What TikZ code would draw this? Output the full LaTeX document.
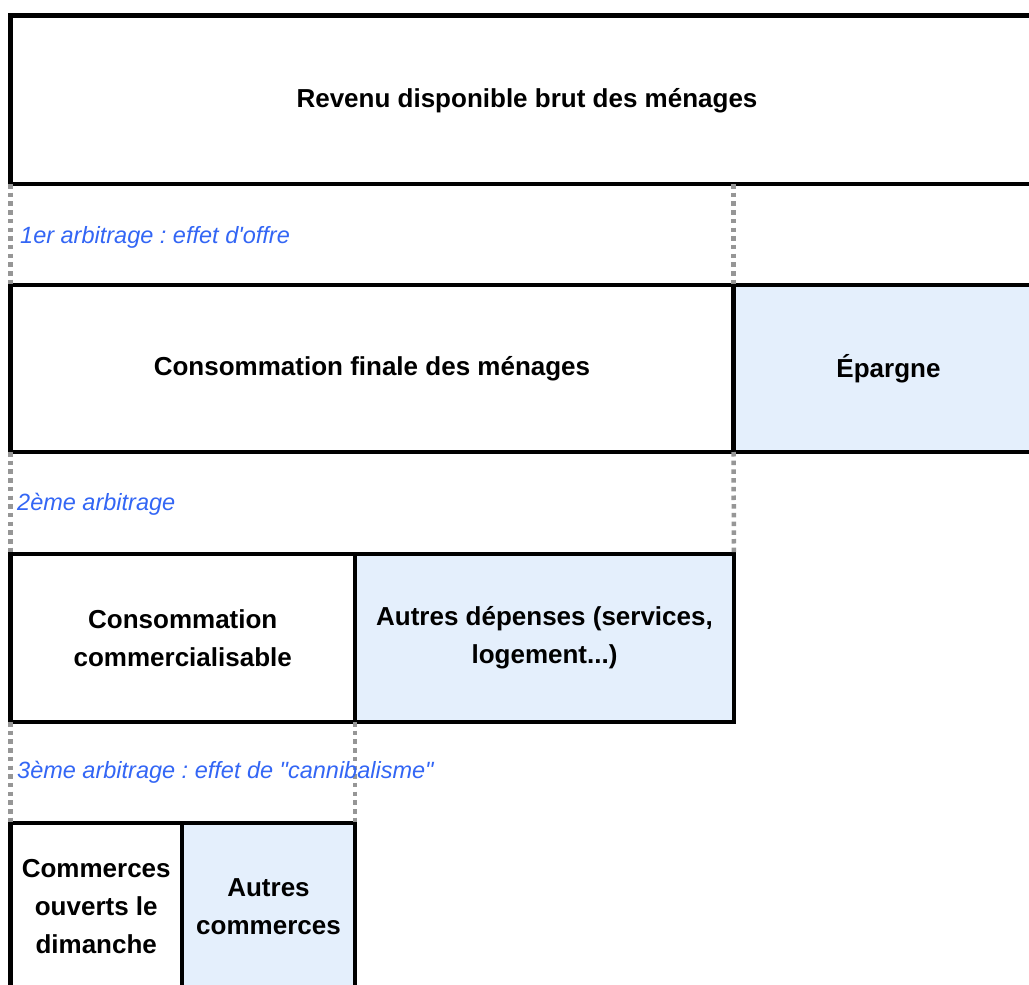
\documentclass[tikz,border=0pt]{standalone}
\usepackage{fontspec}
\setmainfont{Liberation Sans}
\frenchspacing
\definecolor{lblue}{RGB}{51,102,245}
\definecolor{lfill}{RGB}{228,239,252}
\definecolor{dgray}{RGB}{150,150,150}
\begin{document}
\begin{tikzpicture}[x=1pt,y=-1pt,
  box/.style={draw=black,line width=4.5pt,rectangle,outer sep=0pt,inner sep=0pt,anchor=north west,
    font=\fontsize{26}{38}\selectfont\bfseries,align=center},
  shaded/.style={box,fill=lfill},
  arb/.style={anchor=west,inner sep=0pt,text=lblue,font=\fontsize{23.5}{28}\selectfont\itshape},
  guide/.style={draw=dgray,line width=4.5pt,dash pattern=on 4.5pt off 4.2pt}]
\useasboundingbox (0,0) rectangle (1029,985);
\clip (0,0) rectangle (1029,985);
\fill[white] (0,0) rectangle (1029,985);
% row 1
\node[box,minimum width=1034pt,minimum height=168.5pt] (rdb) at (10.5,15.5) {};
\node (rdbt) at (527,101) {\fontsize{26}{38}\selectfont\bfseries Revenu disponible brut des ménages};
% row 2
\node[box,minimum width=723pt,minimum height=167pt] (cons) at (10.5,285) {Consommation finale des ménages};
\node[shaded,minimum width=310pt,minimum height=167pt] (epar) at (733.5,285) {Épargne};
% row 3
\node[box,minimum width=344.5pt,minimum height=168pt] (comm) at (10.5,554) {Consommation\\commercialisable};
\node[shaded,minimum width=379pt,minimum height=168pt] (autr) at (355,554) {Autres dépenses (services,\\logement...)};
% row 4
\node[box,minimum width=171.5pt,minimum height=168pt] (dim) at (10.5,823) {Commerces\\ouverts le\\dimanche};
\node[shaded,minimum width=173pt,minimum height=168pt] (autc) at (182,823) {Autres\\commerces};
% guides
\draw[guide] (rdb.south west) -- (cons.north west);
\draw[guide] (cons.north east |- rdb.south) -- (cons.north east);
\draw[guide] (cons.south west) -- (comm.north west);
\draw[guide] (cons.south east) -- (autr.north east);
\draw[guide] (comm.south west) -- (dim.north west);
\draw[guide] (comm.south east) -- (autc.north east);
% labels
\node[arb] (l1) at (20,237) {1er arbitrage : effet d\textquotesingle offre};
\node[arb] (l2) at (17,504) {2ème arbitrage};
\node[arb] (l3) at (17,772) {3ème arbitrage : effet de \textquotedbl cannibalisme\textquotedbl};
\end{tikzpicture}
\end{document}
